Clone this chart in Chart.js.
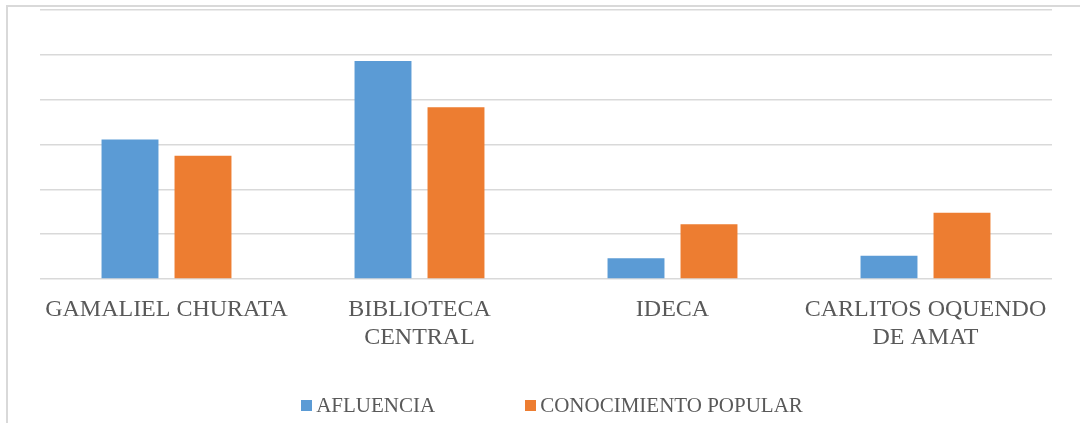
<!DOCTYPE html>
<html>
<head>
<meta charset="utf-8">
<script src="https://cdn.jsdelivr.net/npm/chart.js@4"></script>
<style>
  html, body { margin: 0; padding: 0; background: #ffffff; }
  body { width: 1080px; height: 423px; position: relative; overflow: hidden; }
  .marco {
    position: absolute; left: 6px; top: 5px; width: 1100px; height: 440px;
    border: 2px solid #d9d9d9; box-sizing: border-box;
  }
  .grafico { position: absolute; left: 0; top: 0; width: 1080px; height: 423px; }
  .leyenda {
    position: absolute; left: 0; top: 393px; width: 1104px;
    display: flex; justify-content: center; gap: 90px;
    font-family: 'Liberation Serif', 'Times New Roman', serif; font-size: 21px; color: #595959;
  }
  .leyenda span.item { display: flex; align-items: center; white-space: nowrap; }
  .leyenda span.caja { display: inline-block; width: 11px; height: 11px; margin-right: 4px; }
</style>
</head>
<body>
<div class="marco"></div>
<div class="grafico"><canvas id="chart"></canvas></div>
<div class="leyenda" id="leyenda"></div>
<script>
// Datos del gráfico
const categorias = [['GAMALIEL CHURATA'], ['BIBLIOTECA', 'CENTRAL'], ['IDECA'], ['CARLITOS OQUENDO', 'DE AMAT']];
const afluencia = [31.1, 48.6, 4.6, 5.2];
const conocimientoPopular = [27.5, 38.3, 12.2, 14.8];
const series = ['AFLUENCIA', 'CONOCIMIENTO POPULAR'];
const colores = ['#5B9BD5', '#ED7D31'];

const fuente = "'Liberation Serif', 'Times New Roman', serif";

const chart = new Chart(document.getElementById('chart'), {
  type: 'bar',
  data: {
    labels: categorias,
    datasets: [
      { label: series[0], data: afluencia, backgroundColor: colores[0] },
      { label: series[1], data: conocimientoPopular, backgroundColor: colores[1] }
    ]
  },
  options: {
    responsive: true,
    maintainAspectRatio: false,
    animation: false,
    categoryPercentage: 0.577,
    barPercentage: 0.78,
    layout: { padding: { left: 40, right: 28, top: 10, bottom: 54 } },
    plugins: {
      legend: { display: false },
      tooltip: { enabled: false }
    },
    scales: {
      x: {
        grid: { display: false, drawTicks: false },
        border: { display: false },
        ticks: {
          color: '#595959',
          padding: 17,
          maxRotation: 0,
          autoSkip: false,
          font: { family: fuente, size: 24, lineHeight: 1.167 }
        }
      },
      y: {
        min: 0,
        max: 60,
        grid: { color: '#d9d9d9', lineWidth: 1.5, drawTicks: false },
        border: { display: false },
        ticks: { display: false, stepSize: 10 }
      }
    }
  }
});

// Leyenda en HTML (mismo orden que los datasets)
const leyenda = document.getElementById('leyenda');
chart.data.datasets.forEach(ds => {
  const item = document.createElement('span');
  item.className = 'item';
  const caja = document.createElement('span');
  caja.className = 'caja';
  caja.style.background = ds.backgroundColor;
  item.appendChild(caja);
  item.appendChild(document.createTextNode(ds.label));
  leyenda.appendChild(item);
});
</script>
</body>
</html>
